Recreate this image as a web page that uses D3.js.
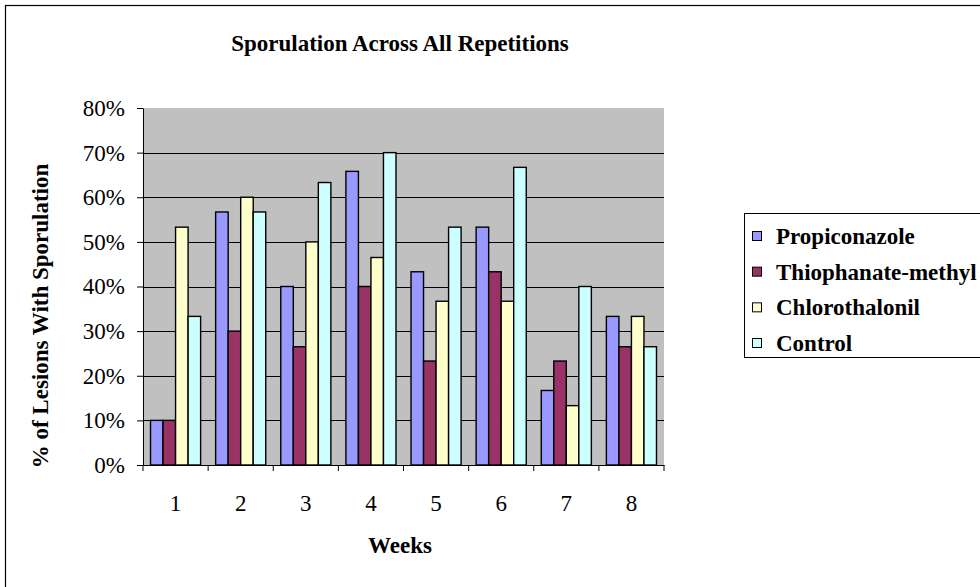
<!DOCTYPE html>
<html><head><meta charset="utf-8">
<script src="https://cdn.jsdelivr.net/npm/d3@7"></script>
<style>html,body{margin:0;padding:0;background:#fff;}svg{display:block;}</style>
</head><body>
<script>
const weeks = ["1","2","3","4","5","6","7","8"];
const seriesNames = ["Propiconazole","Thiophanate-methyl","Chlorothalonil","Control"];
const propiconazole = [0.10,0.567,0.40,0.658,0.433,0.533,0.167,0.333];
const thiophanate   = [0.10,0.30,0.265,0.40,0.233,0.433,0.233,0.265];
const chlorothalonil= [0.533,0.60,0.50,0.465,0.367,0.367,0.133,0.333];
const control       = [0.333,0.567,0.633,0.70,0.533,0.667,0.40,0.265];
const yTicks = [0,0.1,0.2,0.3,0.4,0.5,0.6,0.7,0.8];
const colors = ["#9999FF","#993366","#FFFFCC","#CCFFFF"];
const title = "Sporulation Across All Repetitions";
const xTitle = "Weeks";
const yTitle = "% of Lesions With Sporulation";

const values = [propiconazole, thiophanate, chlorothalonil, control];
const W = 980, H = 587;
const FS = 23;
const svg = d3.select("body").append("svg").attr("width", W).attr("height", H)
  .style("font-family", "'Liberation Serif','Times New Roman',serif");

// outer frame
svg.append("rect").attr("x",5.5).attr("y",5.5).attr("width",W).attr("height",H)
  .attr("fill","#fff").attr("stroke","#000").attr("stroke-width",1.2);

const L = 143, R = 664, T = 108, B = 465;
const x0 = d3.scaleBand().domain(weeks).range([L, R]).padding(0);
const x1 = d3.scaleBand().domain(seriesNames).range([0, x0.bandwidth()]).paddingInner(0).paddingOuter(0.6);
const y = d3.scaleLinear().domain([0, 0.8]).range([B, T]);

svg.append("rect").attr("x",L).attr("y",T).attr("width",R-L).attr("height",B-T).attr("fill","#C0C0C0");

// grid
svg.append("g").selectAll("line").data(yTicks.filter(d=>d>0 && d<0.8)).join("line")
  .attr("x1",L).attr("x2",R).attr("y1",d=>Math.round(y(d))+0.5).attr("y2",d=>Math.round(y(d))+0.5)
  .attr("stroke","#000").attr("stroke-width",1);

// bars
const rows = weeks.map((w,i)=>({week:w, vals: seriesNames.map((s,j)=>({s, j, v: values[j][i]}))}));
svg.append("g").selectAll("g").data(rows).join("g")
  .attr("transform", d=>`translate(${x0(d.week)},0)`)
  .selectAll("rect").data(d=>d.vals).join("rect")
  .attr("x", d=>x1(d.s)).attr("width", x1.bandwidth())
  .attr("y", d=>y(d.v)).attr("height", d=>B - y(d.v))
  .attr("fill", d=>colors[d.j]).attr("stroke","#000").attr("stroke-width",1.4);

// y axis
const yAxis = d3.axisLeft(y).tickValues(yTicks).tickFormat(d3.format(".0%")).tickSizeInner(6).tickSizeOuter(0).tickPadding(12);
const ga = svg.append("g").attr("transform",`translate(${L},0)`).call(yAxis);
ga.selectAll("text").attr("font-size",FS).attr("font-family","'Liberation Serif',serif").attr("fill","#000");
ga.selectAll("line,path").attr("stroke","#000");

// x axis
const xAxis = d3.axisBottom(x0).tickSize(0).tickPadding(30);
const gx = svg.append("g").attr("transform",`translate(0,${B})`).call(xAxis);
gx.selectAll("text").attr("font-size",FS).attr("font-family","'Liberation Serif',serif").attr("fill","#000");
gx.selectAll("path").attr("stroke","#000");
gx.selectAll("line.sep").data(d3.range(weeks.length+1)).join("line").attr("class","sep")
  .attr("x1",i=>L + i*x0.step()).attr("x2",i=>L + i*x0.step()).attr("y1",0).attr("y2",6).attr("stroke","#000");

// titles
svg.append("text").attr("x",400).attr("y",51).attr("text-anchor","middle")
  .attr("font-size",FS).attr("font-weight","bold").text(title);
svg.append("text").attr("x",400).attr("y",553).attr("text-anchor","middle")
  .attr("font-size",FS).attr("font-weight","bold").text(xTitle);
svg.append("text").attr("transform","translate(48,316) rotate(-90)").attr("text-anchor","middle")
  .attr("font-size",FS).attr("font-weight","bold").text(yTitle);

// legend
const lg = svg.append("g");
lg.append("rect").attr("x",744.5).attr("y",213.5).attr("width",260).attr("height",144)
  .attr("fill","#fff").attr("stroke","#000").attr("stroke-width",1);
const ly = d3.scalePoint().domain(seriesNames).range([236, 343]);
const li = lg.selectAll("g").data(seriesNames).join("g").attr("transform",d=>`translate(0,${ly(d)})`);
li.append("rect").attr("x",752.5).attr("y",-4.5).attr("width",9).attr("height",9)
  .attr("fill",(d,i)=>colors[i]).attr("stroke","#000").attr("stroke-width",1);
li.append("text").attr("x",776).attr("y",8).attr("font-size",FS).attr("font-weight","bold").text(d=>d);
</script>
</body></html>
